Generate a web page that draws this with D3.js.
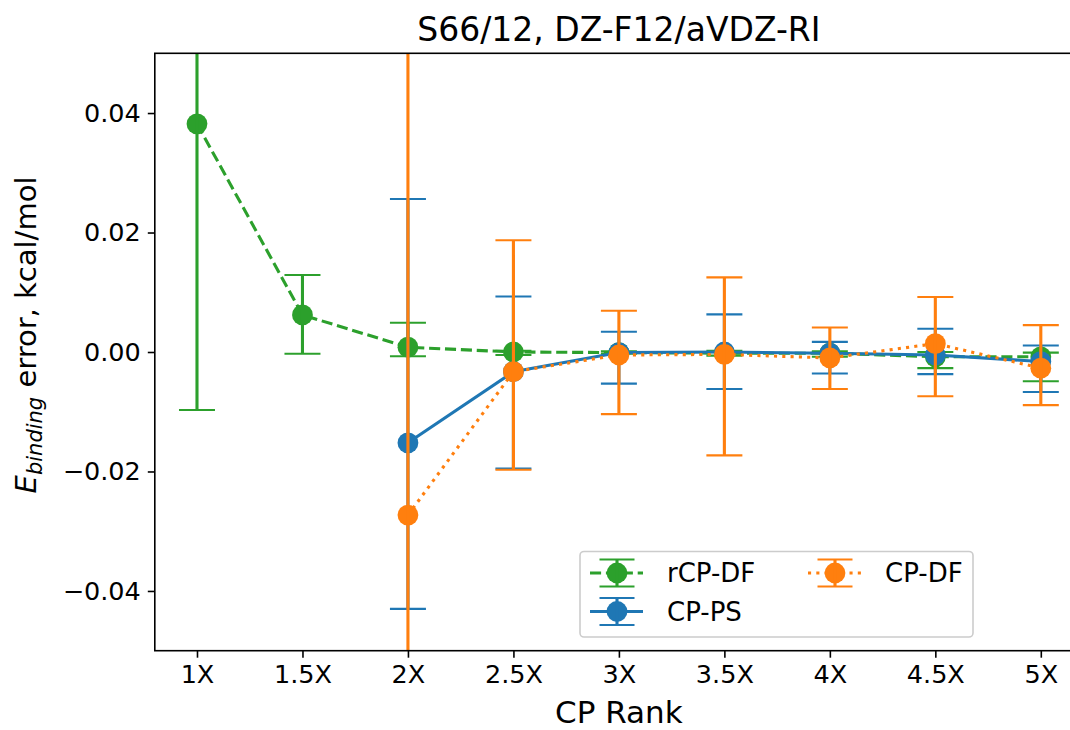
<!DOCTYPE html>
<html>
<head>
<meta charset="utf-8">
<script src="https://cdn.jsdelivr.net/npm/d3@7"></script>
<style>
  body { margin: 0; background: #fff; }
  svg text { font-family: "DejaVu Sans", sans-serif; fill: #000; }
</style>
</head>
<body>
<svg id="chart" width="1070" height="730"></svg>
<script>
/// Data

var ranks = ["1X", "1.5X", "2X", "2.5X", "3X", "3.5X", "4X", "4.5X", "5X"];
var yTicks = [-0.04, -0.02, 0.00, 0.02, 0.04];

// rCP-DF
var rcpdfValue = [0.0382, 0.0062, 0.0008, 0.0000, -0.0001, -0.0002, -0.0002, -0.0008, -0.0008];
var rcpdfLow   = [-0.0097, -0.0003, -0.0007, -0.0005, -0.0003, -0.0006, -0.0008, -0.0027, -0.0049];
var rcpdfHigh  = [0.0860, 0.0129, 0.0049, 0.0002, 0.0001, 0.0002, 0.0001, 0.0000, -0.0001];

// CP-PS
var cppsValue = [null, null, -0.0152, -0.0033, -0.0001, 0.0000, -0.0002, -0.0005, -0.0016];
var cppsLow   = [null, null, -0.0430, -0.0195, -0.0053, -0.0062, -0.0036, -0.0037, -0.0067];
var cppsHigh  = [null, null, 0.0256, 0.0093, 0.0034, 0.0063, 0.0017, 0.0039, 0.0011];

// CP-DF
var cpdfValue = [null, null, -0.0273, -0.0033, -0.0005, -0.0004, -0.0010, 0.0014, -0.0027];
var cpdfLow   = [null, null, -0.0900, -0.0197, -0.0104, -0.0173, -0.0062, -0.0074, -0.0089];
var cpdfHigh  = [null, null, 0.0700, 0.0187, 0.0069, 0.0125, 0.0041, 0.0092, 0.0045];


/// Layout

var plotLeft = 154.8, plotRight = 1083, plotTop = 53.3, plotBottom = 650.7;
var svg = d3.select("#chart");

var x = d3.scaleLinear().domain([-0.4, ranks.length - 1 + 0.4]).range([plotLeft, plotRight]);
var y = d3.scaleLinear().domain([-0.05, 0.05]).range([plotBottom, plotTop]);

svg.append("defs").append("clipPath").attr("id", "plotclip")
  .append("rect")
  .attr("x", plotLeft).attr("y", plotTop)
  .attr("width", plotRight - plotLeft).attr("height", plotBottom - plotTop);

var plot = svg.append("g").attr("clip-path", "url(#plotclip)");

function makeSeries(values, lows, highs){
  var pts = [];
  values.forEach(function(v, i){
    if(v !== null){
      pts.push({i: i, v: v, lo: lows[i], hi: highs[i]});
    }
  });
  return pts;
}

var series = [
  {name: "rCP-DF", color: "#2ca02c", dash: "11.1,4.8", pts: makeSeries(rcpdfValue, rcpdfLow, rcpdfHigh)},
  {name: "CP-PS",  color: "#1f77b4", dash: null,       pts: makeSeries(cppsValue, cppsLow, cppsHigh)},
  {name: "CP-DF",  color: "#ff7f0e", dash: "3.1,5.2",  pts: makeSeries(cpdfValue, cpdfLow, cpdfHigh)}
];

var capHalf = 18;
var line = d3.line().x(function(d){ return x(d.i); }).y(function(d){ return y(d.v); });

series.forEach(function(s){
  var g = plot.append("g");
  g.append("path")
    .attr("d", line(s.pts))
    .attr("fill", "none")
    .attr("stroke", s.color)
    .attr("stroke-width", 3.1)
    .attr("stroke-dasharray", s.dash);

  g.selectAll(null).data(s.pts).enter()
    .append("circle")
    .attr("cx", function(d){ return x(d.i); })
    .attr("cy", function(d){ return y(d.v); })
    .attr("r", 10.4)
    .attr("fill", s.color);

  // error bars
  g.selectAll(null).data(s.pts).enter()
    .append("line")
    .attr("x1", function(d){ return x(d.i); })
    .attr("x2", function(d){ return x(d.i); })
    .attr("y1", function(d){ return y(d.lo); })
    .attr("y2", function(d){ return y(d.hi); })
    .attr("stroke", s.color)
    .attr("stroke-width", 3.1);

  ["lo", "hi"].forEach(function(k){
    g.selectAll(null).data(s.pts).enter()
      .append("line")
      .attr("x1", function(d){ return x(d.i) - capHalf; })
      .attr("x2", function(d){ return x(d.i) + capHalf; })
      .attr("y1", function(d){ return y(d[k]); })
      .attr("y2", function(d){ return y(d[k]); })
      .attr("stroke", s.color)
      .attr("stroke-width", 2.1);
  });
});


/// Axes

var xAxis = d3.axisBottom(x)
  .tickValues(d3.range(ranks.length))
  .tickFormat(function(i){ return ranks[i]; })
  .tickSize(7).tickPadding(7);

var yAxis = d3.axisLeft(y)
  .tickValues(yTicks)
  .tickFormat(function(v){ return d3.format(".2f")(v).replace("-", "\u2212"); })
  .tickSize(7).tickPadding(7);

var gx = svg.append("g").attr("transform", "translate(0," + plotBottom + ")").call(xAxis);
var gy = svg.append("g").attr("transform", "translate(" + plotLeft + ",0)").call(yAxis);

[gx, gy].forEach(function(g){
  g.select(".domain").remove();
  g.selectAll(".tick line").attr("stroke", "#000").attr("stroke-width", 1.6);
  g.selectAll(".tick text").style("font-size", "25.5px").attr("fill", "#000");
});

// frame
svg.append("rect")
  .attr("x", plotLeft).attr("y", plotTop)
  .attr("width", plotRight - plotLeft).attr("height", plotBottom - plotTop)
  .attr("fill", "none").attr("stroke", "#000").attr("stroke-width", 1.6);


/// Labels

svg.append("text")
  .attr("x", (plotLeft + plotRight) / 2).attr("y", 41)
  .attr("text-anchor", "middle")
  .style("font-size", "33px")
  .text("S66/12, DZ-F12/aVDZ-RI");

svg.append("text")
  .attr("x", (plotLeft + plotRight) / 2).attr("y", 723)
  .attr("text-anchor", "middle")
  .style("font-size", "31px")
  .text("CP Rank");

var ylab = svg.append("text")
  .attr("transform", "translate(36,335) rotate(-90)")
  .attr("text-anchor", "middle")
  .style("font-size", "29px");
ylab.append("tspan").style("font-style", "italic").text("E");
ylab.append("tspan").style("font-style", "italic").style("font-size", "21px")
  .attr("dy", 6).text("binding");
ylab.append("tspan").attr("dy", -6).text(" error, kcal/mol");


/// Legend

var legend = svg.append("g");
legend.append("rect")
  .attr("x", 580).attr("y", 551.5)
  .attr("width", 393).attr("height", 85.5)
  .attr("rx", 4)
  .attr("fill", "#fff").attr("fill-opacity", 0.8)
  .attr("stroke", "#cccccc").attr("stroke-width", 1.6);

var legendPos = [
  {x: 617, y: 573},
  {x: 617, y: 611.5},
  {x: 835, y: 573}
];

series.forEach(function(s, k){
  var p = legendPos[k];
  var g = legend.append("g");
  g.append("line")
    .attr("x1", p.x - 27).attr("x2", p.x + 26)
    .attr("y1", p.y).attr("y2", p.y)
    .attr("stroke", s.color).attr("stroke-width", 3.1)
    .attr("stroke-dasharray", s.dash);
  g.append("circle").attr("cx", p.x).attr("cy", p.y).attr("r", 10.4).attr("fill", s.color);
  g.append("line")
    .attr("x1", p.x).attr("x2", p.x)
    .attr("y1", p.y - 13.5).attr("y2", p.y + 13.5)
    .attr("stroke", s.color).attr("stroke-width", 3.1);
  [-13.5, 13.5].forEach(function(off){
    g.append("line")
      .attr("x1", p.x - 17.5).attr("x2", p.x + 17.5)
      .attr("y1", p.y + off).attr("y2", p.y + off)
      .attr("stroke", s.color).attr("stroke-width", 2.1);
  });
  g.append("text")
    .attr("x", p.x + 50).attr("y", p.y + 9)
    .style("font-size", "26px")
    .text(s.name);
});
</script>
</body>
</html>
